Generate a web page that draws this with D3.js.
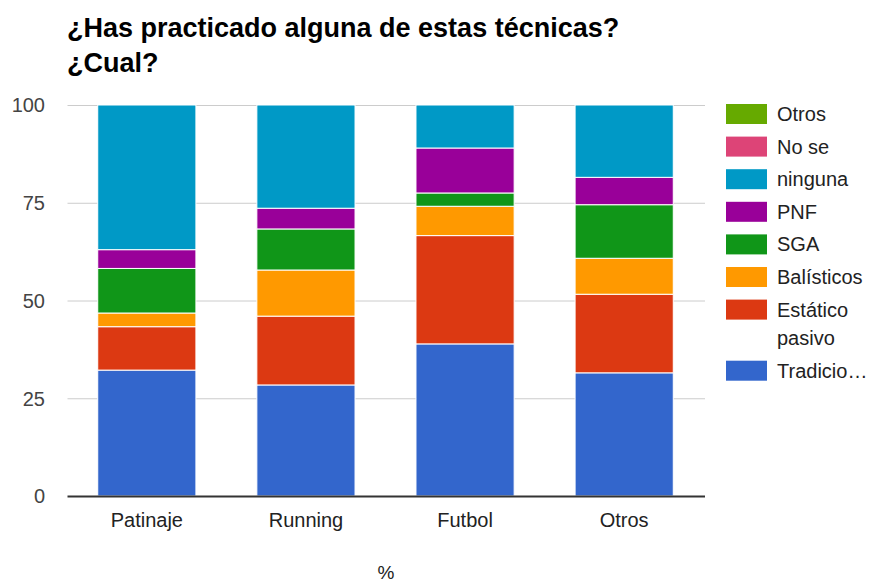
<!DOCTYPE html>
<html><head><meta charset="utf-8">
<script src="https://cdn.jsdelivr.net/npm/d3@7"></script>
<style>body{margin:0;background:#fff}svg{display:block;font-family:"Liberation Sans",Arial,sans-serif}</style>
</head><body><svg id="c" width="871" height="583"></svg>
<script>
const categories = ["Patinaje","Running","Futbol","Otros"];
const seriesNames = ["Tradicional","Estático pasivo","Balísticos","SGA","PNF","ninguna","No se","Otros"];
const legendLabels = ["Tradicio…","Estático pasivo","Balísticos","SGA","PNF","ninguna","No se","Otros"];
const colors = ["#3366cc","#dc3912","#ff9900","#109618","#990099","#0099c6","#dd4477","#66aa00"];
const tradicional = [32.2, 28.4, 38.9, 31.5];
const estatico    = [11.1, 17.6, 27.7, 20.1];
const balisticos  = [3.5, 11.8, 7.5, 9.2];
const sga         = [11.4, 10.5, 3.4, 13.7];
const pnf         = [4.8, 5.3, 11.5, 7.0];
const ninguna     = [37.0, 26.4, 11.0, 18.5];
const nose        = [0, 0, 0, 0];
const otros       = [0, 0, 0, 0];
const yTicks = [0, 25, 50, 75, 100];
const title = ["¿Has practicado alguna de estas técnicas?", "¿Cual?"];
const xTitle = "%";

const seriesValues = [tradicional, estatico, balisticos, sga, pnf, ninguna, nose, otros];
const rows = categories.map((c, i) => {
  const r = {cat: c};
  seriesNames.forEach((s, j) => r[s] = seriesValues[j][i]);
  return r;
});
const stacked = d3.stack().keys(seriesNames)(rows);

const svg = d3.select("#c");
const pLeft = 67.5, pRight = 703.5, pTop = 105, pBottom = 496;
const x = d3.scaleBand().domain(categories).range([pLeft, pRight]).paddingInner(0.383).paddingOuter(0.19);
const y = d3.scaleLinear().domain([0, 100]).range([pBottom, pTop]);
const FONT = "Liberation Sans, Arial, sans-serif";

// title
svg.append("g").selectAll("text").data(title).join("text")
  .attr("x", 67).attr("y", (d, i) => 37 + i * 34.5)
  .attr("font-size", 27).attr("font-weight", "bold").attr("fill", "#000")
  .text(d => d);

// gridlines
const yAxis = d3.axisLeft(y).tickValues(yTicks).tickSize(-(pRight - pLeft + 1.5)).tickPadding(22.5);
const ga = svg.append("g").attr("transform", `translate(${pLeft},0)`).call(yAxis);
ga.select(".domain").remove();
ga.selectAll(".tick line").attr("stroke", "#cccccc").attr("stroke-width", 1);
ga.selectAll(".tick text").attr("font-size", 20).attr("fill", "#444").attr("font-family", FONT).attr("dy", "0.34em");
ga.selectAll(".tick").filter(d => d === 0).select("line").remove();

// bars
svg.append("g").selectAll("g").data(stacked).join("g")
  .attr("fill", (d, i) => colors[i])
  .selectAll("rect").data(d => d.filter(p => p[1] - p[0] > 0)).join("rect")
  .attr("x", d => x(d.data.cat))
  .attr("width", x.bandwidth())
  .attr("y", d => y(d[1]))
  .attr("height", d => y(d[0]) - y(d[1]))
  .attr("stroke", "#fff").attr("stroke-width", 1);

// baseline
svg.append("line").attr("x1", pLeft).attr("x2", pRight + 1.5)
  .attr("y1", y(0) + 0.5).attr("y2", y(0) + 0.5).attr("stroke", "#333").attr("stroke-width", 2);

// x axis labels
const xAxis = d3.axisBottom(x).tickSize(0).tickPadding(0);
const gx = svg.append("g").attr("transform", `translate(0,${pBottom})`).call(xAxis);
gx.select(".domain").remove();
gx.selectAll(".tick text").attr("font-size", 20).attr("fill", "#222").attr("font-family", FONT)
  .attr("dy", null).attr("y", 31);

svg.append("text").attr("x", 386).attr("y", 579).attr("text-anchor", "middle")
  .attr("font-size", 19).attr("fill", "#222").text(xTitle);

// legend (reverse order)
const legendItems = legendLabels.map((l, i) => ({label: l, color: colors[i]})).reverse();
const lg = svg.append("g");
let ly = 104;
legendItems.forEach(item => {
  const lines = item.label === "Estático pasivo" ? ["Estático", "pasivo"] : [item.label];
  lg.append("rect").attr("x", 726).attr("y", ly).attr("width", 41).attr("height", 20).attr("fill", item.color);
  lines.forEach((t, k) => {
    lg.append("text").attr("x", 777).attr("y", ly + 17 + k * 28.5).attr("font-size", 20).attr("fill", "#222").text(t);
  });
  ly += 32.6 + (lines.length - 1) * 28.5;
});
</script></body></html>
